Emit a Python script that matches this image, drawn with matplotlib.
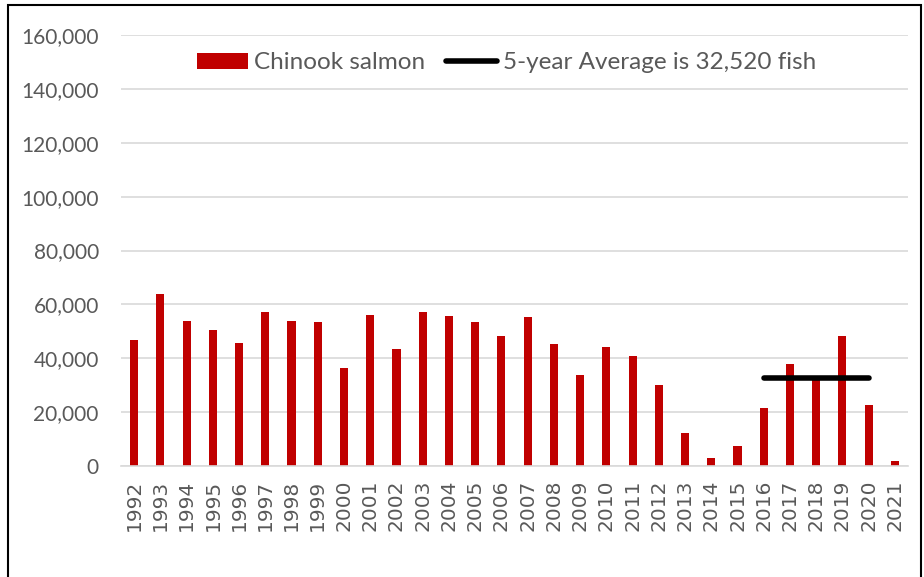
import matplotlib.pyplot as plt
from matplotlib.patches import Rectangle
from matplotlib.ticker import FuncFormatter

# Chinook salmon counts by year
years = list(range(1992, 2022))
chinook = [46800, 63900, 53900, 50600, 45700, 57000, 54000, 53300, 36300, 55900,
           43600, 57000, 55700, 53300, 48400, 55200, 45200, 33800, 44300, 40900,
           30200, 12300, 3000, 7500, 21500, 37900, 32400, 48200, 22600, 1700]

avg_years = [2016, 2020]
avg_value = 32520

bar_color = "#C00000"
text_color = "#595959"

plt.rcParams['font.family'] = ['Lato', 'DejaVu Sans']

fig = plt.figure(figsize=(9.24, 5.77), dpi=100)
ax = fig.add_axes([0.131, 0.1924, 0.8517, 0.7469])

x = list(range(len(years)))
bars = ax.bar(x, chinook, width=0.31, color=bar_color, label="Chinook salmon", zorder=2)

i0 = years.index(avg_years[0])
i1 = years.index(avg_years[1])
line, = ax.plot([i0, i1], [avg_value, avg_value], color="black", lw=4, solid_capstyle="round",
                label="5-year Average is 32,520 fish", zorder=3)

ax.set_xlim(-0.5, len(years) - 0.5)
ax.set_ylim(0, 160000)
ax.set_yticks(range(0, 160001, 20000))
ax.yaxis.set_major_formatter(FuncFormatter(lambda v, p: f"{int(v):,}"))
ax.set_xticks(x)
ax.set_xticklabels([str(y) for y in years], rotation=90, family="DejaVu Sans", fontsize=14.5)

ax.grid(axis="y", color="#d9d9d9", lw=1.2, zorder=0)
ax.set_axisbelow(True)
for s in ["top", "right", "left"]:
    ax.spines[s].set_visible(False)
ax.spines["bottom"].set_color("#d9d9d9")
ax.spines["bottom"].set_linewidth(1.2)
ax.tick_params(axis="both", length=0, colors=text_color)
ax.tick_params(axis="y", pad=16, labelsize=15)
ax.tick_params(axis="x", pad=10)

fig.legend([bars, line], ["Chinook salmon", "5-year Average is 32,520 fish"],
           loc="center", bbox_to_anchor=(0.548, 0.891), ncol=2, frameon=False,
           fontsize=17.5, handlelength=2.1, handleheight=0.6, handletextpad=0.25,
           columnspacing=0.85, labelcolor=text_color)

# outer chart border
fig.patches.append(Rectangle((0.0087, -0.02), 0.988, 1.0113, transform=fig.transFigure,
                             fill=False, edgecolor="black", lw=1.5))

fig.savefig("out.png", dpi=100)
